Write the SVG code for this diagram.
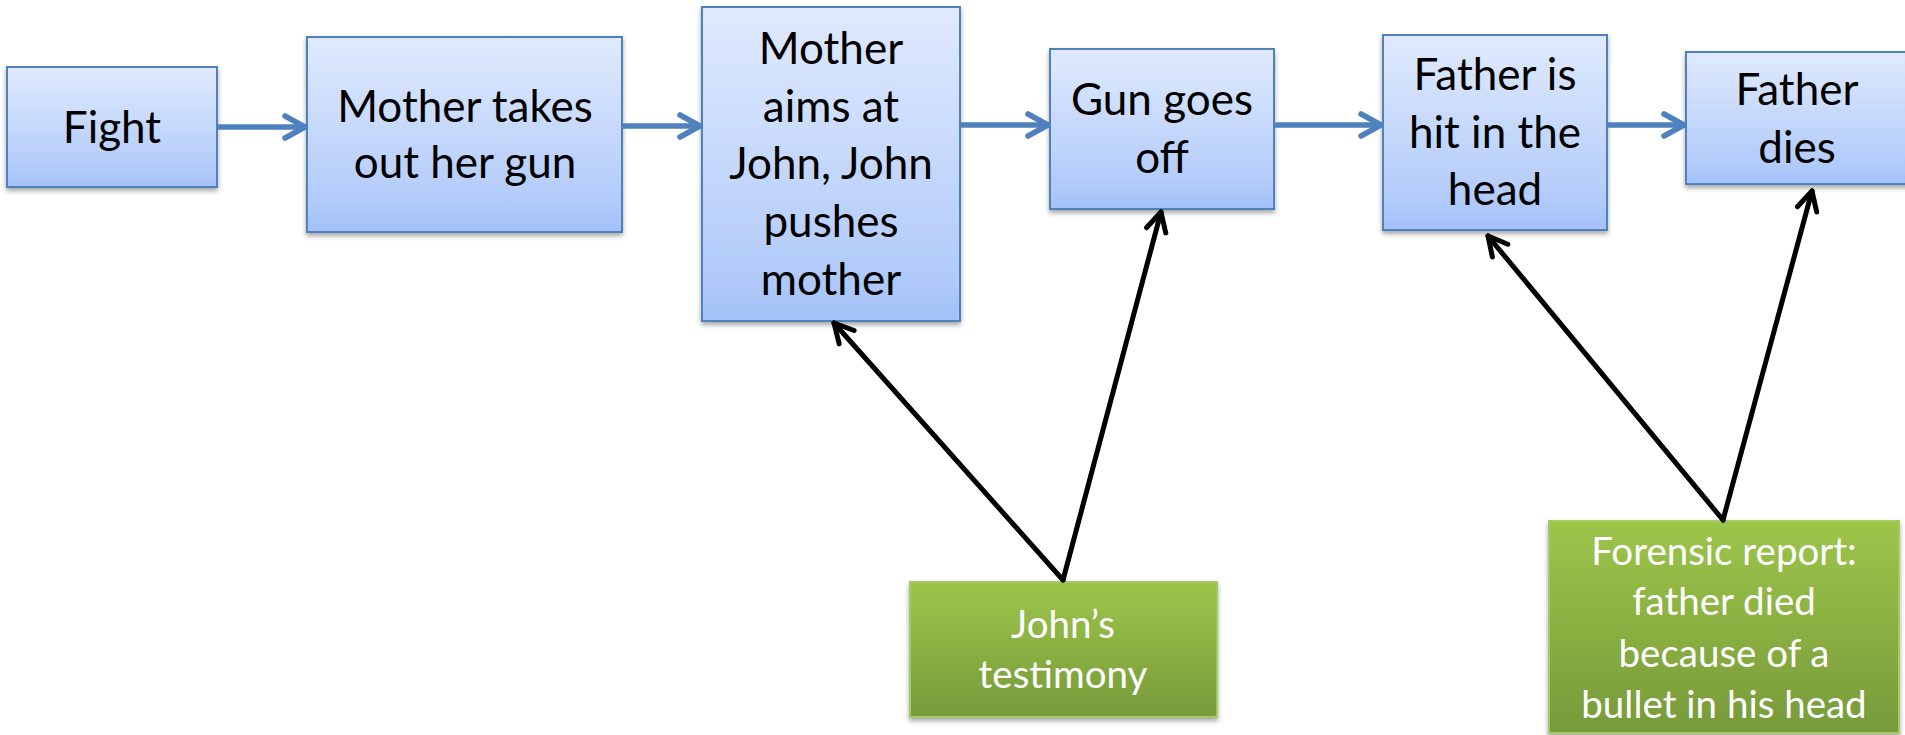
<svg xmlns="http://www.w3.org/2000/svg" width="1905" height="735" viewBox="0 0 1905 735">
<defs>
<linearGradient id="gBlue" x1="0" y1="0" x2="0" y2="1">
<stop offset="0" stop-color="#e0eafd"/>
<stop offset="0.8" stop-color="#b5cdfa"/>
<stop offset="1" stop-color="#a3c1f8"/>
</linearGradient>
<linearGradient id="gGreen" x1="0" y1="0" x2="0" y2="1">
<stop offset="0" stop-color="#9dc54a"/>
<stop offset="1" stop-color="#779a3a"/>
</linearGradient>
<filter id="sh" x="-10%" y="-10%" width="120%" height="125%">
<feDropShadow dx="0" dy="3" stdDeviation="2.5" flood-color="#000" flood-opacity="0.35"/>
</filter>
<marker id="mBlue" markerUnits="userSpaceOnUse" viewBox="-26 -15 30 30" refX="0" refY="0" markerWidth="30" markerHeight="30" orient="auto">
<polyline points="-20,-11 0,0 -20,11" fill="none" stroke="#4f81bd" stroke-width="5.5" stroke-linecap="round" stroke-linejoin="round"/>
</marker>
<marker id="mBlack" markerUnits="userSpaceOnUse" viewBox="-26 -15 30 30" refX="0" refY="0" markerWidth="30" markerHeight="30" orient="auto">
<polyline points="-19,-10 0,0 -19,10" fill="none" stroke="#000" stroke-width="5" stroke-linecap="round" stroke-linejoin="round"/>
</marker>
</defs>
<style>
.bb{fill:url(#gBlue);stroke:#4f81bd;stroke-width:2;filter:url(#sh)}
.gb{fill:url(#gGreen);stroke:#a6c865;stroke-width:2;filter:url(#sh)}
.bt{font-family:Lato,"Liberation Sans",sans-serif;font-size:44px;fill:#000;text-anchor:middle}
.gt{font-family:Lato,"Liberation Sans",sans-serif;font-size:38.5px;fill:#fff;text-anchor:middle}
.ba{stroke:#4f81bd;stroke-width:5.5;fill:none;stroke-linecap:round;marker-end:url(#mBlue)}
.ka{stroke:#000;stroke-width:5;fill:none;stroke-linecap:round;marker-end:url(#mBlack)}
</style>
<rect width="1905" height="735" fill="#fff"/>
<g id="n-fight">
<rect class="bb" x="7" y="67" width="210" height="120"/>
<text class="bt" x="112" y="143">Fight</text>
</g>
<g id="n-takes">
<rect class="bb" x="307" y="37" width="315" height="195"/>
<text class="bt" x="465" y="122">Mother takes</text>
<text class="bt" x="465" y="178">out her gun</text>
</g>
<g id="n-aims">
<rect class="bb" x="702" y="7" width="258" height="314"/>
<text class="bt" x="831" y="64">Mother</text>
<text class="bt" x="831" y="122">aims at</text>
<text class="bt" x="831" y="179">John, John</text>
<text class="bt" x="831" y="237">pushes</text>
<text class="bt" x="831" y="295">mother</text>
</g>
<g id="n-gun">
<rect class="bb" x="1050" y="49" width="224" height="160"/>
<text class="bt" x="1162" y="115">Gun goes</text>
<text class="bt" x="1162" y="173">off</text>
</g>
<g id="n-hit">
<rect class="bb" x="1383" y="35" width="224" height="195"/>
<text class="bt" x="1495" y="90">Father is</text>
<text class="bt" x="1495" y="148">hit in the</text>
<text class="bt" x="1495" y="205">head</text>
</g>
<g id="n-dies">
<rect class="bb" x="1686" y="52" width="224" height="132"/>
<text class="bt" x="1797" y="105">Father</text>
<text class="bt" x="1797" y="163">dies</text>
</g>
<g id="n-john">
<rect class="gb" x="910" y="582" width="307" height="135"/>
<text class="gt" x="1063" y="638">John’s</text>
<text class="gt" x="1063" y="688">testimony</text>
</g>
<g id="n-forensic">
<rect class="gb" x="1549" y="521" width="350" height="212"/>
<text class="gt" x="1724" y="565">Forensic report:</text>
<text class="gt" x="1724" y="615">father died</text>
<text class="gt" x="1724" y="667">because of a</text>
<text class="gt" x="1724" y="718">bullet in his head</text>
</g>
<g id="connectors">
<line class="ba" x1="219" y1="127" x2="305" y2="127"/>
<line class="ba" x1="624" y1="126" x2="700" y2="126"/>
<line class="ba" x1="962" y1="125" x2="1048" y2="125"/>
<line class="ba" x1="1276" y1="125" x2="1381" y2="125"/>
<line class="ba" x1="1609" y1="125" x2="1684" y2="125"/>
<line class="ka" x1="1063" y1="580" x2="834" y2="323"/>
<line class="ka" x1="1063" y1="580" x2="1161" y2="212"/>
<line class="ka" x1="1723" y1="520" x2="1488" y2="236"/>
<line class="ka" x1="1723" y1="520" x2="1812" y2="191"/>
</g>
</svg>
